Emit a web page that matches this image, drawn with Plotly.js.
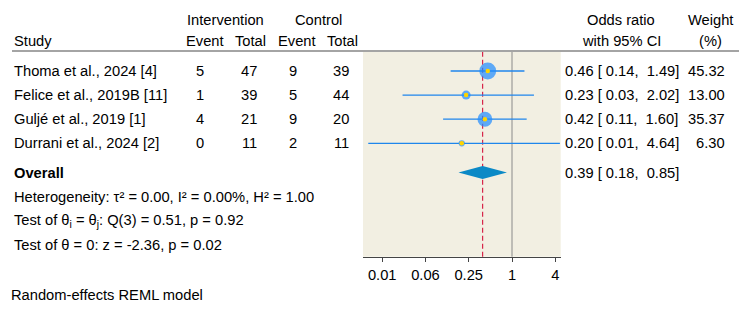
<!DOCTYPE html>
<html>
<head>
<meta charset="utf-8">
<script src="https://cdn.plot.ly/plotly-3.0.1.min.js"></script>
<style>
  html, body { margin: 0; padding: 0; background: #ffffff; }
  #chart { width: 750px; height: 313px; }
</style>
</head>
<body>
<div id="chart"></div>
<script>
// ---- study-level data ----
const studies   = ["Thoma et al., 2024 [4]", "Felice et al., 2019B [11]", "Guljé et al., 2019 [1]", "Durrani et al., 2024 [2]"];
const intEvent  = [5, 1, 4, 0];
const intTotal  = [47, 39, 21, 11];
const ctrlEvent = [9, 5, 9, 2];
const ctrlTotal = [39, 44, 20, 11];
const oddsRatio = [0.46, 0.23, 0.42, 0.20];
const ciLow     = [0.14, 0.03, 0.11, 0.01];
const ciHigh    = [1.49, 2.02, 1.60, 4.64];
const weightPct = [45.32, 13.00, 35.37, 6.30];

// ---- pooled estimate and heterogeneity statistics ----
const overallOR   = 0.39;
const overallLow  = 0.18;
const overallHigh = 0.85;
const tau2 = 0.00, I2 = 0.00, H2 = 1.00;
const qStat = 0.51, qDf = 3, qP = 0.92;
const zStat = -2.36, zP = 0.02;

// ---- axis ticks (powers of 4) ----
const tickValues = [1 / 64, 1 / 16, 1 / 4, 1, 4];
const tickLabels = ["0.01", "0.06", "0.25", "1", "4"];

// ---- page geometry (pixels) ----
const W = 750, H = 313;
const FONT = "Liberation Sans, Arial, Helvetica, sans-serif";
const FS = 14.7;
const px = x => x / W;
const py = y => (H - y) / H;

const panelLeft = 363, panelRight = 560.7, panelTop = 52, axisY = 256.7;
const firstRowY = 71, rowPitch = 24.1;
const rowOf = y => (y - firstRowY) / rowPitch + 1;   // pixel -> row units
const rowY = i => firstRowY + rowPitch * i;          // row index -> pixel

const rows = studies.map((_, i) => i + 1);
const overallRow = rowOf(172.5);
const diamondHalf = 6.6 / rowPitch;

const blue = "#1f8bff", ciBlue = "#1f86ec", gold = "#ffd400", diamondBlue = "#0b89c6";

// ---- traces ----
const ciX = [], ciY = [];
rows.forEach((r, i) => { ciX.push(ciLow[i], ciHigh[i], null); ciY.push(r, r, null); });

const traces = [
  { type: "scatter", mode: "lines", x: ciX, y: ciY,
    line: { color: ciBlue, width: 1.3 }, hoverinfo: "skip", showlegend: false },
  { type: "scatter", mode: "markers", x: oddsRatio, y: rows,
    marker: { color: blue, size: weightPct.map(w => 2.5 * Math.sqrt(w)), line: { width: 0 } },
    hoverinfo: "skip", showlegend: false },
  { type: "scatter", mode: "markers", x: oddsRatio, y: rows,
    marker: { color: gold, size: 4.5, line: { width: 0 } },
    hoverinfo: "skip", showlegend: false },
  { type: "scatter", mode: "lines",
    x: [overallLow, overallOR, overallHigh, overallOR, overallLow],
    y: [overallRow, overallRow - diamondHalf, overallRow, overallRow + diamondHalf, overallRow],
    fill: "toself", fillcolor: diamondBlue, line: { width: 0, color: diamondBlue },
    hoverinfo: "skip", showlegend: false }
];

// ---- text ----
const f2 = v => v.toFixed(2);
const pad5 = v => f2(v).padStart(5, " ");
const ciText = (o, lo, hi) => `${f2(o)} [${pad5(lo)}, ${pad5(hi)}]`.replace(/ /g, "\u00a0");

function ann(text, x, y, xanchor, extra) {
  return Object.assign({
    text: text, x: px(x), xref: "paper", y: py(y), yref: "paper",
    xanchor: xanchor, yanchor: "middle", showarrow: false,
    font: { family: FONT, size: FS, color: "#000000" }
  }, extra || {});
}

const annotations = [
  ann("Intervention", 225, 20, "center"),
  ann("Control", 318, 20, "center"),
  ann("Study", 12, 41, "left"),
  ann("Event", 205, 41, "center"),
  ann("Total", 250, 41, "center"),
  ann("Event", 297, 41, "center"),
  ann("Total", 342, 41, "center"),
  ann("Odds ratio", 621, 20, "center"),
  ann("with 95% CI", 621, 41, "center"),
  ann("Weight", 710, 20, "center"),
  ann("(%)", 710, 41, "center")
];

studies.forEach((s, i) => {
  const y = rowY(i);
  annotations.push(
    ann(s, 12, y, "left"),
    ann(String(intEvent[i]), 200, y, "center"),
    ann(String(intTotal[i]), 249, y, "center"),
    ann(String(ctrlEvent[i]), 293, y, "center"),
    ann(String(ctrlTotal[i]), 341, y, "center"),
    ann(ciText(oddsRatio[i], ciLow[i], ciHigh[i]), 563, y, "left"),
    ann(f2(weightPct[i]), 727, y, "right")
  );
});

annotations.push(
  ann("<b>Overall</b>", 12, 172.5, "left"),
  ann(ciText(overallOR, overallLow, overallHigh), 563, 172.5, "left"),
  ann(`Heterogeneity: τ² = ${f2(tau2)}, I² = ${f2(I2)}%, H² = ${f2(H2)}`, 12, 196.5, "left"),
  ann(`Test of θ<sub>i</sub> = θ<sub>j</sub>: Q(${qDf}) = ${f2(qStat)}, p = ${f2(qP)}`, 12, 220.5, "left"),
  ann(`Test of θ = 0: z = ${f2(zStat)}, p = ${f2(zP)}`, 12, 244.5, "left"),
  ann("Random-effects REML model", 9, 295, "left")
);

// ---- reference lines and header rule ----
const shapes = [
  { type: "line", xref: "x", yref: "y domain", x0: 1, x1: 1, y0: 0, y1: 1,
    line: { color: "#8a8a8a", width: 1 }, layer: "below" },
  { type: "line", xref: "x", yref: "y domain", x0: overallOR, x1: overallOR, y0: 0, y1: 1,
    line: { color: "#d7264b", width: 1.2, dash: "5px,3px" }, layer: "below" },
  { type: "line", xref: "paper", yref: "paper", x0: px(12), x1: px(739), y0: py(51), y1: py(51),
    line: { color: "#4a4a4a", width: 1.2 } }
];

const layout = {
  width: W, height: H,
  margin: { l: 0, r: 0, t: 0, b: 0, pad: 0 },
  paper_bgcolor: "#ffffff",
  plot_bgcolor: "#f2efe2",
  font: { family: FONT, size: FS, color: "#000000" },
  showlegend: false,
  xaxis: {
    type: "log",
    domain: [px(panelLeft), px(panelRight)],
    range: [Math.log10(0.00845), Math.log10(4.76)],
    tickmode: "array", tickvals: tickValues, ticktext: tickLabels,
    ticks: "outside", ticklen: 4, tickwidth: 1, tickcolor: "#444444",
    showline: true, linecolor: "#444444", linewidth: 1.2,
    showgrid: false, zeroline: false,
    tickfont: { family: FONT, size: FS, color: "#000000" },
    fixedrange: true
  },
  yaxis: {
    domain: [py(axisY), py(panelTop)],
    range: [rowOf(axisY), rowOf(panelTop)],
    showticklabels: false, ticks: "", showgrid: false, zeroline: false, showline: false,
    fixedrange: true
  },
  shapes: shapes,
  annotations: annotations
};

Plotly.newPlot("chart", traces, layout, { staticPlot: true, displayModeBar: false });
</script>
</body>
</html>
